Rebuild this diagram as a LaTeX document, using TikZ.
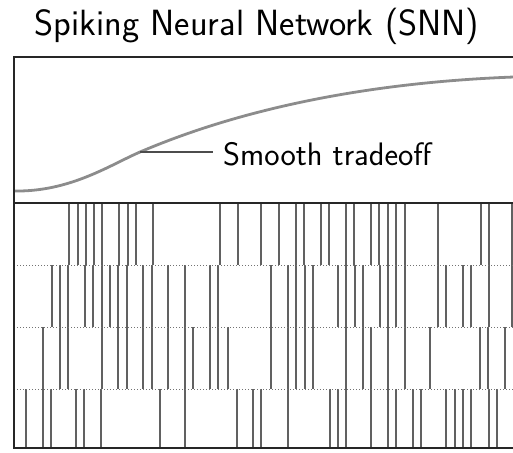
\documentclass[tikz,border=0pt]{standalone}
\usepackage{tikz}
\begin{document}
\begin{tikzpicture}[x=1pt,y=-1pt,
  framepen/.style={line width=1.8pt,black!85},
  rowsep/.style={line width=1pt,black!55,dotted},
  spike/.style={line width=1.4pt,black!62},
  tradeoff/.style={line width=2.8pt,black!45},
  leader/.style={line width=1.8pt,black!70},
  titletext/.style={font=\sffamily\fontsize{36.5}{42}\selectfont,inner sep=0pt},
  labeltext/.style={font=\sffamily\fontsize{32.5}{38}\selectfont,inner sep=0pt}]
\useasboundingbox (0,0) rectangle (513,452);

% title
\node[titletext,anchor=base] (title) at (257,36) {Spiking Neural Network (SNN)};

% smooth tradeoff curve in the upper panel
\draw[tradeoff] (14,191) .. controls (70,192) and (110,165) .. (140,152)
                coordinate (knee)
                .. controls (250,105) and (380,82) .. (514,77);
\node[labeltext,anchor=base west] (lbl) at (223,165) {Smooth tradeoff};
\draw[leader] (knee) -- ([xshift=-10pt]lbl.west |- knee);

% spike raster, one list of spike times per row
\def\rowA{69,78,86,94,102,119,128,136,153,220,238,261,279,296,304,321,329,346,354,371,379,388,396,405,438,481,489,512}
\def\rowB{52,60,68,85,93,102,110,118,127,143,152,168,185,210,218,271,288,296,305,313,338,346,355,363,380,388,396,405,438,446,463,471,489,512}
\def\rowC{43,60,68,102,118,127,143,152,168,185,193,210,218,228,271,288,296,305,313,346,363,371,388,405,430,480,488,505}
\def\rowD{26,43,51,76,84,101,160,185,237,253,261,288,330,338,346,371,388,396,413,421,446,455,463,471,489,497}
\foreach \t in \rowA {\draw[spike] (\t,204) -- (\t,265);}
\foreach \t in \rowB {\draw[spike] (\t,265) -- (\t,327);}
\foreach \t in \rowC {\draw[spike] (\t,327) -- (\t,389);}
\foreach \t in \rowD {\draw[spike] (\t,389) -- (\t,448);}
\foreach \y in {265,327,389} {\draw[rowsep] (14,\y) -- (514,\y);}

% panel frame, open on the right
\draw[framepen] (514,57) -- (14,57) -- (14,448) -- (514,448);
\draw[framepen] (14,203) -- (514,203);
\end{tikzpicture}
\end{document}
